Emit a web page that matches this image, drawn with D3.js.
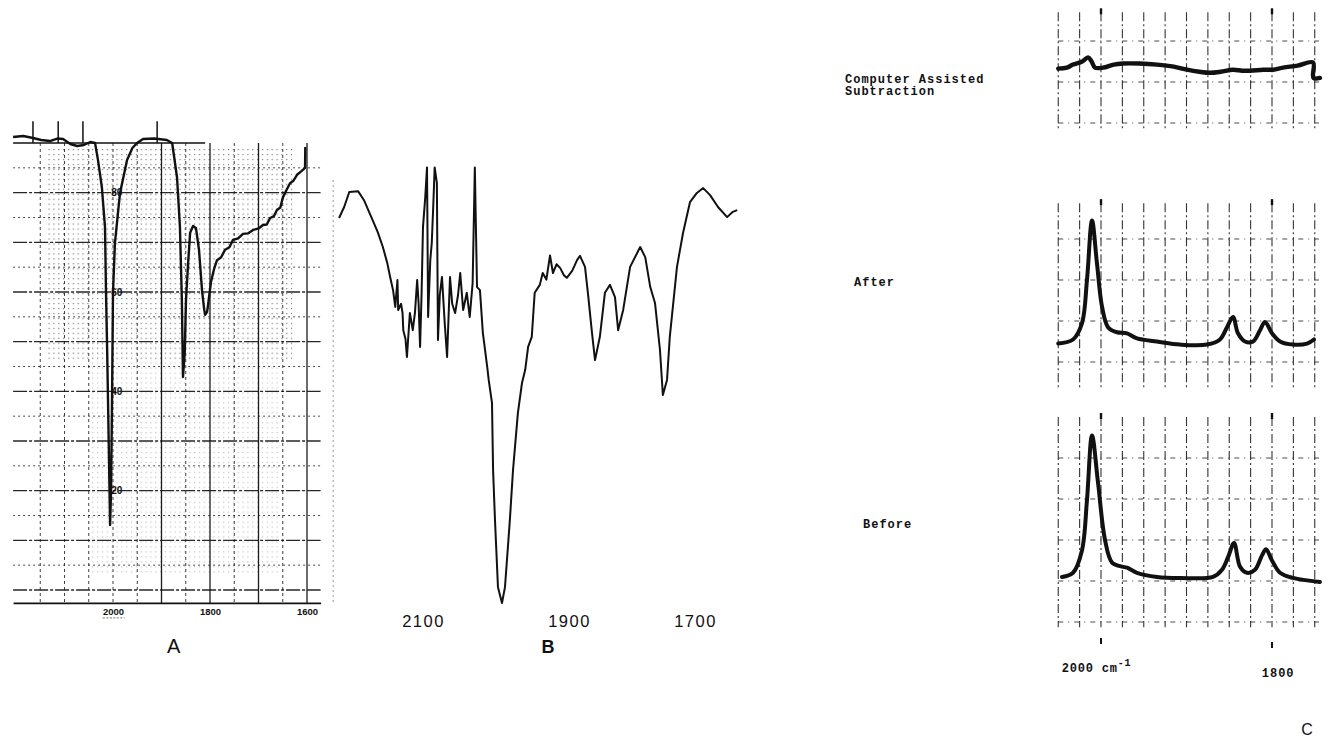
<!DOCTYPE html>
<html>
<head>
<meta charset="utf-8">
<title>IR spectra A, B, C</title>
<script src="https://cdn.jsdelivr.net/npm/d3@7"></script>
<style>
  html, body { margin: 0; padding: 0; background: #fff; }
  svg { display: block; }
</style>
</head>
<body>
<svg id="fig" width="1330" height="750"></svg>
<script>
// ---------------- data ----------------
// Panel A: chart-recorder trace, wavenumber (cm-1) vs %T
const specA = [[2206,91.2],[2185,91.4],[2165,91.0],[2148,90.6],[2130,90.4],[2115,90.9],[2103,90.8],[2088,89.8],[2074,89.4],[2060,89.6],[2047,90.2],[2037,90.0],[2031,86.6],[2023,81.1],[2016.5,73.1],[2014.4,59.8],[2012,48],[2010.3,38.3],[2008,25],[2006,13.1],[2004,20],[2002,38.3],[2000,59.8],[1996,69.9],[1985.6,79.9],[1971,86.6],[1960,89],[1950.5,90],[1938,90.8],[1915,90.9],[1889,90.6],[1878,90],[1868,83.1],[1862,73.1],[1858,58.4],[1855.7,42.9],[1852,48],[1849.5,58.4],[1845,66],[1841,71.9],[1835,73.3],[1829,72.9],[1822.7,68.5],[1816.5,60.4],[1812,56.5],[1810,55.4],[1806,56],[1804,57.4],[1798,62],[1792,64.5],[1785.6,66.4],[1777,67],[1769,68.5],[1760,69],[1752.6,70.5],[1742,70.8],[1732,71.7],[1722,71.8],[1711,72.5],[1700,72.8],[1690.7,73.5],[1683,73.6],[1676,74.9],[1668,75.3],[1662,76.5],[1655,77],[1649.5,79.1],[1642,80.6],[1635,81.9],[1628,82.4],[1620.6,83.6],[1612,84.3],[1604,85],[1603.5,89.2]];
const ticksA = [2000, 1800, 1600];
const scaleMarksA = [80, 60, 40, 20];
const gridWnA = d3.range(2150, 1599, -50);
const majorWnA = [1900, 1800, 1700, 1600];
const gridTA = d3.range(0, 91, 5);
const topTicksA = [2165, 2113, 2062, 1909];

// Panel B: wavenumber (cm-1) vs %T
const specB = [[2215,87.5],[2208,90],[2201,93.4],[2189,93.6],[2181,91.6],[2169,87],[2162,84.3],[2155,80.9],[2149,77.3],[2145,74.1],[2141,71.1],[2138,67.3],[2135,73.4],[2134,66.6],[2130,68],[2128,65.9],[2127,62],[2124,60],[2122,55.9],[2118,65.9],[2114,62],[2111,66],[2108,73.4],[2106,68],[2104,58.2],[2102,70],[2100,85.5],[2097,92],[2094.5,99],[2093,65],[2090,78],[2088,81.8],[2086,90],[2084,99],[2081,95.5],[2079.5,59.8],[2077,70],[2074,74.1],[2070,63],[2067,55.9],[2063,74.1],[2060,68],[2056,65.9],[2052,70],[2049,75],[2045,66.6],[2040,70.5],[2036,65],[2032,72.7],[2029,99],[2026,71.8],[2022,71.1],[2018,61.4],[2012,53.6],[2010,50.7],[2005.5,45.5],[2004,30.2],[2001.4,18.9],[1997.3,3.6],[1991.8,0],[1987.7,3.6],[1981,18.9],[1976.7,30.2],[1970,43.2],[1964.4,50],[1960,53],[1956,58.2],[1951,60.5],[1947,70.5],[1940,72.3],[1936,75],[1931,73.5],[1926,79],[1922,75],[1917,77],[1912,76.1],[1907,74.5],[1903,73.9],[1895,75.5],[1887,78],[1882.5,78.9],[1874.6,76.4],[1870,70.5],[1863.5,61.4],[1858.7,55.2],[1851,60.5],[1843,70.5],[1835,72.3],[1827,69.5],[1822,62],[1814,66.6],[1803,76.4],[1787,80.9],[1779,78.6],[1771,71.8],[1763.5,68.2],[1755.6,57.5],[1751,47.3],[1744.4,50.7],[1740,60.5],[1728.6,76.4],[1719,84.1],[1708,91.1],[1697,93.2],[1687,94.3],[1676,92.7],[1663.5,90],[1649,87.7],[1640,88.9],[1633,89.3]];
const ticksB = [2100, 1900, 1700];

// Panel C: wavenumber (cm-1) vs absorbance
const specSub = [[2050,0.265],[2040,0.27],[2032.7,0.285],[2022,0.3],[2015.2,0.32],[2011,0.3],[2007,0.27],[1997.7,0.27],[1985,0.285],[1974.3,0.29],[1955,0.29],[1934.5,0.285],[1915,0.275],[1899.4,0.26],[1885,0.25],[1872.5,0.245],[1860,0.25],[1845.6,0.26],[1835,0.255],[1825.7,0.255],[1810,0.26],[1798.8,0.26],[1787.1,0.27],[1770,0.28],[1752,0.295],[1751.5,0.22],[1744,0.22]];
const specAfter = [[2050,0.29],[2032.7,0.31],[2022.2,0.39],[2016.4,0.6],[2010.5,0.89],[2004.7,0.68],[1998.8,0.47],[1991.8,0.37],[1981.3,0.345],[1969.6,0.34],[1957.9,0.315],[1934.5,0.3],[1907.6,0.285],[1876,0.285],[1860.8,0.31],[1852.6,0.37],[1845.6,0.42],[1839.8,0.34],[1831.6,0.3],[1822.2,0.3],[1814,0.355],[1808.2,0.395],[1800,0.34],[1790.6,0.3],[1775.4,0.285],[1759,0.29],[1750.9,0.31]];
const specBefore = [[2045.6,0.22],[2032.7,0.24],[2022.2,0.35],[2016.4,0.595],[2010.5,0.91],[2003.5,0.68],[1995.3,0.40],[1987.1,0.29],[1975.4,0.27],[1969.6,0.265],[1957.9,0.24],[1934.5,0.22],[1907.6,0.215],[1869,0.22],[1858.5,0.255],[1851.5,0.315],[1844.4,0.385],[1837.4,0.27],[1829.2,0.24],[1819.9,0.255],[1811.7,0.325],[1807,0.355],[1800,0.30],[1790.6,0.24],[1775.4,0.215],[1744,0.195]];
const gridWnC = d3.range(2050, 1749, -25);
const ticksC = [2000, 1800];
const gridSub = [0, 0.2, 0.4];
const gridAfter = [0.2, 0.4, 0.6, 0.8];
const gridBefore = [0, 0.2, 0.4, 0.6, 0.8];

// ---------------- drawing ----------------
const ink = "#111";
const svg = d3.select("#fig");
const defs = svg.append("defs");

// ===== Panel A =====
const xA = d3.scaleLinear().domain([2000, 1600]).range([113, 307]);
const yA = d3.scaleLinear().domain([0, 90]).range([590, 143]);
const gA = svg.append("g");
const wnLeftA = 2206, wnRightA = 1572, tBottomA = -2.6;

// chart-paper dot texture: one dot per 10 cm-1 x 1 %T
const dotW = Math.abs(xA(10) - xA(0)), dotH = Math.abs(yA(1) - yA(0));
defs.append("pattern").attr("id", "paperDots")
  .attr("patternUnits", "userSpaceOnUse")
  .attr("width", dotW).attr("height", dotH)
  .append("rect").attr("width", 1.2).attr("height", 1.2).attr("fill", ink);

gA.append("rect")
  .attr("x", xA(2140)).attr("y", yA(89))
  .attr("width", xA(1630) - xA(2140)).attr("height", yA(46) - yA(89))
  .attr("fill", "url(#paperDots)").attr("opacity", 0.55);
gA.append("rect")
  .attr("x", xA(2050)).attr("y", yA(46))
  .attr("width", xA(1655) - xA(2050)).attr("height", yA(3) - yA(46))
  .attr("fill", "url(#paperDots)").attr("opacity", 0.25);

// horizontal %T rulings
gA.selectAll("line.hgrid").data(gridTA.filter(t => t !== 90)).join("line")
  .attr("x1", xA(wnLeftA)).attr("x2", xA(wnRightA))
  .attr("y1", d => yA(d)).attr("y2", d => yA(d))
  .attr("stroke", ink)
  .attr("stroke-width", d => d % 10 === 0 ? 1.4 : 1)
  .attr("stroke-dasharray", d => d % 10 === 0 ? "14,2,3,2" : "2,3")
  .attr("opacity", d => d % 10 === 0 ? 0.9 : 0.75);
gA.append("line")
  .attr("x1", xA(wnLeftA)).attr("x2", xA(1810))
  .attr("y1", yA(90)).attr("y2", yA(90))
  .attr("stroke", ink).attr("stroke-width", 1.7);

// vertical wavenumber rulings
gA.selectAll("line.vgrid").data(gridWnA).join("line")
  .attr("x1", d => xA(d)).attr("x2", d => xA(d))
  .attr("y1", yA(90)).attr("y2", yA(tBottomA))
  .attr("stroke", ink)
  .attr("stroke-width", d => majorWnA.includes(d) ? 1.3 : 1)
  .attr("stroke-dasharray", d => majorWnA.includes(d) ? null : "3,3")
  .attr("opacity", d => majorWnA.includes(d) ? 0.95 : 0.8);

// marker ticks above the top ruling
gA.selectAll("line.topTick").data(topTicksA).join("line")
  .attr("x1", d => xA(d)).attr("x2", d => xA(d))
  .attr("y1", yA(94.4)).attr("y2", yA(90))
  .attr("stroke", ink).attr("stroke-width", 1.5);

// bottom axis
const xAaxis = xA.copy().domain([wnLeftA, wnRightA]).range([xA(wnLeftA), xA(wnRightA)]);
const axA = gA.append("g")
  .attr("transform", `translate(0,${yA(tBottomA)})`)
  .call(d3.axisBottom(xAaxis).tickValues(ticksA).tickSize(0).tickSizeOuter(0).tickPadding(5).tickFormat(d3.format("d")));
axA.select(".domain").attr("stroke", ink).attr("stroke-width", 1.8);
axA.selectAll("text")
  .attr("font-family", "Liberation Sans, Arial, sans-serif")
  .attr("font-size", 9.5).attr("font-weight", "bold").attr("fill", ink);
gA.append("line")
  .attr("x1", xA(2021)).attr("x2", xA(1976))
  .attr("y1", yA(tBottomA) + 15).attr("y2", yA(tBottomA) + 15)
  .attr("stroke", ink).attr("stroke-width", 1).attr("stroke-dasharray", "2,1.5").attr("opacity", 0.6);

// spectrum trace
const lineA = d3.line().x(d => xA(d[0])).y(d => yA(d[1]));
gA.append("path").datum(specA)
  .attr("d", lineA).attr("fill", "none")
  .attr("stroke", ink).attr("stroke-width", 2.4).attr("stroke-linejoin", "round");

// %T scale figures printed along the 2000 line
gA.selectAll("text.pct").data(scaleMarksA).join("text")
  .attr("x", xA(1992)).attr("y", d => yA(d) + 3.5)
  .attr("text-anchor", "middle")
  .attr("font-family", "Liberation Sans, Arial, sans-serif")
  .attr("font-size", 10).attr("font-weight", "bold").attr("fill", ink)
  .text(d => d);

gA.append("text")
  .attr("x", xA(1875)).attr("y", 653)
  .attr("text-anchor", "middle")
  .attr("font-family", "Liberation Sans, Arial, sans-serif")
  .attr("font-size", 20).attr("fill", ink)
  .text("A");

// ===== Panel B =====
const xB = d3.scaleLinear().domain(ticksB).range([423, 569, 695]);
const yB = d3.scaleLinear().domain([0, 100]).range([603, 163]);
const gB = svg.append("g");

gB.append("line")
  .attr("x1", xB(2223)).attr("x2", xB(2223))
  .attr("y1", yB(96)).attr("y2", yB(0))
  .attr("stroke", ink).attr("stroke-width", 1.2)
  .attr("stroke-dasharray", "1,4").attr("opacity", 0.7);

const lineB = d3.line().x(d => xB(d[0])).y(d => yB(d[1]));
gB.append("path").datum(specB)
  .attr("d", lineB).attr("fill", "none")
  .attr("stroke", ink).attr("stroke-width", 2).attr("stroke-linejoin", "round");

const axB = gB.append("g")
  .attr("transform", `translate(0,${yB(0)})`)
  .call(d3.axisBottom(xB).tickValues(ticksB).tickSize(0).tickPadding(12).tickFormat(d3.format("d")));
axB.select(".domain").remove();
axB.selectAll("text")
  .attr("font-family", "Liberation Sans, Arial, sans-serif")
  .attr("font-size", 16.5).attr("letter-spacing", 1.5).attr("fill", ink);

gB.append("text")
  .attr("x", 548).attr("y", 653)
  .attr("text-anchor", "middle")
  .attr("font-family", "Liberation Sans, Arial, sans-serif")
  .attr("font-size", 18).attr("font-weight", "bold").attr("fill", ink)
  .text("B");

// ===== Panel C =====
const xC = d3.scaleLinear().domain(ticksC).range([1101, 1272]);
const gC = svg.append("g");
const lineC = y => d3.line().curve(d3.curveCatmullRom.alpha(0.5)).x(d => xC(d[0])).y(d => y(d[1]));

const panelsC = [
  { data: specSub,    grid: gridSub,    y: d3.scaleLinear().domain([0, 1]).range([123, -82]), ext: [-0.025, 0.54], width: 4.4 },
  { data: specAfter,  grid: gridAfter,  y: d3.scaleLinear().domain([0, 1]).range([403, 198]), ext: [0.073, 0.975], width: 4 },
  { data: specBefore, grid: gridBefore, y: d3.scaleLinear().domain([0, 1]).range([622, 417]), ext: [-0.025, 1.0], width: 4 }
];

panelsC.forEach(p => {
  const g = gC.append("g");
  g.selectAll("line.v").data(gridWnC).join("line")
    .attr("x1", d => xC(d)).attr("x2", d => xC(d))
    .attr("y1", p.y(p.ext[1])).attr("y2", p.y(p.ext[0]))
    .attr("stroke", ink).attr("stroke-width", 1.1)
    .attr("stroke-dasharray", "9,3,2,3").attr("opacity", 0.85);
  g.selectAll("line.h").data(p.grid).join("line")
    .attr("x1", xC(2050)).attr("x2", xC(1745))
    .attr("y1", d => p.y(d)).attr("y2", d => p.y(d))
    .attr("stroke", ink).attr("stroke-width", 1.1)
    .attr("stroke-dasharray", "5,5,1,5").attr("opacity", 0.75);
  // pen marks at the 2000 and 1800 rulings
  g.selectAll("rect.mk").data(ticksC).join("rect")
    .attr("x", d => xC(d) - 1.2).attr("y", p.y(p.ext[1]) - 4)
    .attr("width", 2.4).attr("height", 6).attr("fill", ink);
  g.append("path").datum(p.data)
    .attr("d", lineC(p.y)).attr("fill", "none")
    .attr("stroke", ink).attr("stroke-width", p.width)
    .attr("stroke-linejoin", "round").attr("stroke-linecap", "round");
});

const mono = "Liberation Mono, Courier New, monospace";
const labelsC = [
  { text: "Computer Assisted", x: 845, y: 83 },
  { text: "Subtraction", x: 845, y: 95 },
  { text: "After", x: 854, y: 286 },
  { text: "Before", x: 863, y: 528 }
];
gC.selectAll("text.lbl").data(labelsC).join("text")
  .attr("x", d => d.x).attr("y", d => d.y)
  .attr("font-family", mono).attr("font-size", 12).attr("font-weight", "bold")
  .attr("letter-spacing", 1.0).attr("fill", ink)
  .text(d => d.text);

// wavenumber marks under the bottom trace
gC.selectAll("line.tk").data(ticksC).join("line")
  .attr("x1", d => xC(d)).attr("x2", d => xC(d))
  .attr("y1", (d, i) => 638 + i * 4).attr("y2", (d, i) => 644 + i * 4)
  .attr("stroke", ink).attr("stroke-width", 2);

const t2000 = gC.append("text")
  .attr("x", xC(2046)).attr("y", 672)
  .attr("font-family", mono).attr("font-size", 12).attr("font-weight", "bold")
  .attr("letter-spacing", 0.8).attr("fill", ink);
t2000.append("tspan").text(`${ticksC[0]} cm`);
t2000.append("tspan").attr("dy", -6).attr("font-size", 10).text("-1");
gC.append("text")
  .attr("x", xC(1812)).attr("y", 677)
  .attr("font-family", mono).attr("font-size", 12).attr("font-weight", "bold")
  .attr("letter-spacing", 1.0).attr("fill", ink)
  .text(ticksC[1]);

gC.append("text")
  .attr("x", 1307).attr("y", 735)
  .attr("text-anchor", "middle")
  .attr("font-family", "Liberation Sans, Arial, sans-serif")
  .attr("font-size", 16).attr("fill", ink)
  .text("C");
</script>
</body>
</html>
